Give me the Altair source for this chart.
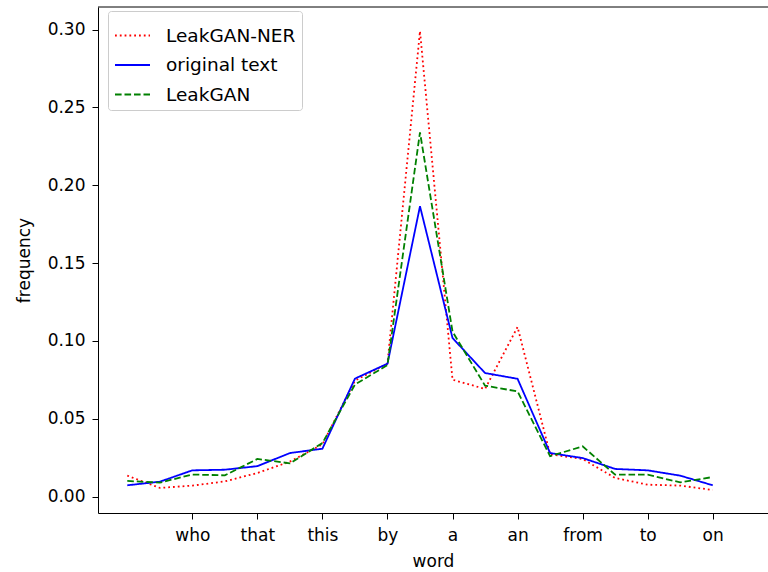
import altair as alt
import pandas as pd

# x positions (index of word) and the tick labels shown
idx = list(range(19))
tick_pos = [2, 4, 6, 8, 10, 12, 14, 16, 18]
tick_words = ["who", "that", "this", "by", "a", "an", "from", "to", "on"]

series_names = ["LeakGAN-NER", "original text", "LeakGAN"]
series_colors = ["#ff0000", "#0000ff", "#008000"]
series_dash = [[1.8, 3.0], [1, 0], [6.6, 2.9]]

leakgan_ner = [0.0135, 0.0056, 0.0071, 0.0098, 0.0152, 0.0225, 0.0336, 0.0745, 0.0855,
               0.299, 0.0751, 0.0692, 0.109, 0.0272, 0.0242, 0.012, 0.0077, 0.0071, 0.0043]
original = [0.0073, 0.0096, 0.0169, 0.0173, 0.0196, 0.028, 0.0308, 0.0758, 0.0854,
            0.1865, 0.1019, 0.0794, 0.0757, 0.028, 0.0248, 0.0178, 0.0169, 0.0135, 0.0073]
leakgan = [0.0101, 0.0090, 0.0142, 0.0137, 0.0242, 0.0214, 0.0344, 0.0720, 0.0845,
           0.234, 0.106, 0.0713, 0.0676, 0.026, 0.0323, 0.0141, 0.0141, 0.0092, 0.0126]

rows = []
for name, vals in zip(series_names, [leakgan_ner, original, leakgan]):
    for i, v in zip(idx, vals):
        rows.append({"idx": i, "frequency": v, "series": name})
df = pd.DataFrame(rows)

label_expr = " : ".join(
    [f"datum.value == {p} ? '{w}'" for p, w in zip(tick_pos, tick_words)]
) + " : ''"

W, H = 670, 506
FONT = "DejaVu Sans"
FS = 17

lines = alt.Chart(df).mark_line(strokeWidth=1.8, clip=True).encode(
    x=alt.X("idx:Q",
            scale=alt.Scale(domain=[-0.9, 19.7], nice=False, zero=False),
            axis=alt.Axis(values=tick_pos, labelExpr=label_expr, title="word",
                          grid=False, tickSize=6, labelPadding=8, titlePadding=10)),
    y=alt.Y("frequency:Q",
            scale=alt.Scale(domain=[-0.0105, 0.3145], nice=False, zero=False),
            axis=alt.Axis(values=[0, 0.05, 0.10, 0.15, 0.20, 0.25, 0.30], format=".2f",
                          title="frequency", grid=False, tickSize=6, labelPadding=7,
                          titlePadding=14)),
    color=alt.Color("series:N",
                    scale=alt.Scale(domain=series_names, range=series_colors),
                    legend=alt.Legend(title=None, orient="none", legendX=10, legendY=4,
                                      symbolType="stroke", symbolSize=1225,
                                      symbolStrokeWidth=1.8, labelFontSize=18.5,
                                      labelFont=FONT, labelColor="black",
                                      rowPadding=1.5, padding=6, labelOffset=15,
                                      fillColor="white", strokeColor="#cccccc",
                                      cornerRadius=3)),
    strokeDash=alt.StrokeDash("series:N",
                              scale=alt.Scale(domain=series_names, range=series_dash),
                              legend=None),
    order=alt.Order("idx:Q"),
)

top_spine = alt.Chart(pd.DataFrame({"a": [0]})).mark_rule(color="black", strokeWidth=1).encode(
    x=alt.value(0), x2=alt.value(W), y=alt.value(0)
)

chart = alt.layer(lines, top_spine).properties(
    width=W, height=H,
    autosize=alt.AutoSizeParams(type="none"),
    padding={"left": 98, "top": 7, "right": 0, "bottom": 59},
).configure_view(stroke=None).configure_axis(
    domainColor="black", domainWidth=1, tickColor="black", tickWidth=1,
    labelColor="black", titleColor="black", labelFont=FONT, titleFont=FONT,
    labelFontSize=FS, titleFontSize=FS, titleFontWeight="normal",
)

chart.save("out.html", embed_options={"renderer": "svg", "actions": False})
